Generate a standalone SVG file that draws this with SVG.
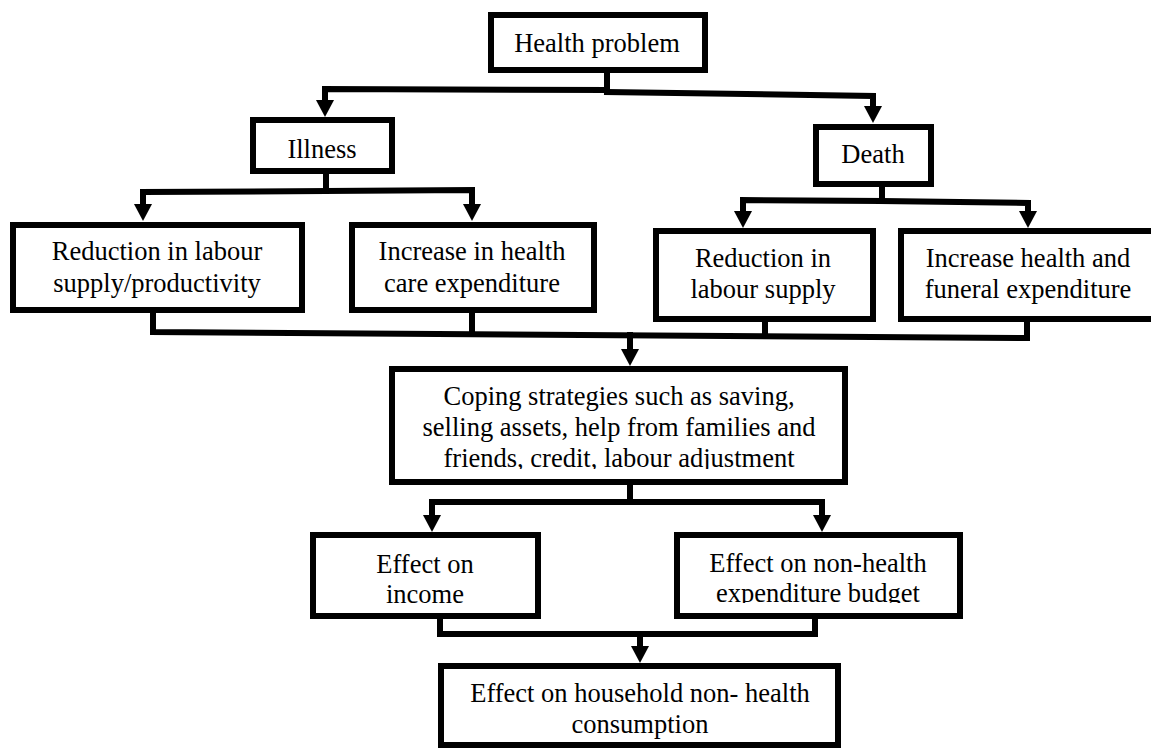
<svg xmlns="http://www.w3.org/2000/svg" width="1151" height="752" viewBox="0 0 1151 752">
  <style>
    .box { fill: #ffffff; stroke: #000000; stroke-width: 6; }
    text { font-family: 'Liberation Serif', 'Times New Roman', serif; font-size: 26.5px; fill: #000000; text-anchor: middle; }
    .wire { fill: none; stroke: #000000; stroke-width: 6; stroke-linejoin: miter; stroke-linecap: square; }
  </style>
  <defs>
    <marker id="arr" markerUnits="userSpaceOnUse" markerWidth="20" markerHeight="20" viewBox="0 -10 18 20" refX="0" refY="0" orient="auto">
      <path d="M0,-9 L17,0 L0,9 Z" fill="#000000"/>
    </marker>
    <clipPath id="clipCoping"><rect x="380" y="360" width="480" height="109"/></clipPath>
    <clipPath id="clipNonHealth"><rect x="670" y="530" width="300" height="73"/></clipPath>
  </defs>
  <rect x="0" y="0" width="1151" height="752" fill="#ffffff"/>

  <g id="connectors">
    <path class="wire" d="M607,73 L607,91"/>
    <path class="wire" d="M607,90 L325,89 L325,100" marker-end="url(#arr)"/>
    <path class="wire" d="M607,92 L873,96 L873,106" marker-end="url(#arr)"/>
    <path class="wire" d="M326,174 L326,191"/>
    <path class="wire" d="M326,191 L143,192 L143,204" marker-end="url(#arr)"/>
    <path class="wire" d="M326,191 L472,190 L472,204" marker-end="url(#arr)"/>
    <path class="wire" d="M882,187 L882,201"/>
    <path class="wire" d="M882,201 L743,200 L743,211" marker-end="url(#arr)"/>
    <path class="wire" d="M882,201 L1028,203 L1028,211" marker-end="url(#arr)"/>
    <path class="wire" d="M153,313 L153,332 L1027,338 L1027,322"/>
    <path class="wire" d="M472,313 L472,333"/>
    <path class="wire" d="M765,322 L765,336"/>
    <path class="wire" d="M630,335 L630,349" marker-end="url(#arr)"/>
    <path class="wire" d="M630,485 L630,502"/>
    <path class="wire" d="M630,502 L432,502 L432,515" marker-end="url(#arr)"/>
    <path class="wire" d="M630,502 L822,502 L822,515" marker-end="url(#arr)"/>
    <path class="wire" d="M440,619 L440,634 L815,634 L815,619"/>
    <path class="wire" d="M640,634 L640,646" marker-end="url(#arr)"/>
  </g>

  <g id="health-problem">
    <rect class="box" x="491" y="15" width="214" height="55"/>
    <text x="597" y="52">Health problem</text>
  </g>
  <g id="illness">
    <rect class="box" x="253" y="120" width="139" height="51"/>
    <text x="322" y="158">Illness</text>
  </g>
  <g id="death">
    <rect class="box" x="816" y="127" width="115" height="57"/>
    <text x="873" y="163">Death</text>
  </g>
  <g id="illness-labour">
    <rect class="box" x="13" y="225" width="289" height="85"/>
    <text x="157" y="260">Reduction in labour</text>
    <text x="157" y="292">supply/productivity</text>
  </g>
  <g id="illness-expenditure">
    <rect class="box" x="352" y="225" width="242" height="85"/>
    <text x="472" y="260">Increase in health</text>
    <text x="472" y="292">care expenditure</text>
  </g>
  <g id="death-labour">
    <rect class="box" x="656" y="231" width="217" height="88"/>
    <text x="763" y="267">Reduction in</text>
    <text x="763" y="298">labour supply</text>
  </g>
  <g id="death-expenditure">
    <rect class="box" x="901" y="231" width="270" height="88"/>
    <text x="1028" y="267">Increase health and</text>
    <text x="1028" y="298">funeral expenditure</text>
  </g>
  <g id="coping">
    <rect class="box" x="392" y="369" width="453" height="113"/>
    <text x="619" y="405">Coping strategies such as saving,</text>
    <text x="619" y="436">selling assets, help from families and</text>
    <text x="619" y="467" clip-path="url(#clipCoping)">friends, credit, labour adjustment</text>
  </g>
  <g id="effect-income">
    <rect class="box" x="313" y="535" width="225" height="81"/>
    <text x="425" y="573">Effect on</text>
    <text x="425" y="603">income</text>
  </g>
  <g id="effect-nonhealth">
    <rect class="box" x="677" y="535" width="283" height="81"/>
    <text x="818" y="572">Effect on non-health</text>
    <text x="818" y="602" clip-path="url(#clipNonHealth)">expenditure budget</text>
  </g>
  <g id="effect-consumption">
    <rect class="box" x="441" y="666" width="397" height="79"/>
    <text x="640" y="702">Effect on household non- health</text>
    <text x="640" y="733">consumption</text>
  </g>
</svg>
